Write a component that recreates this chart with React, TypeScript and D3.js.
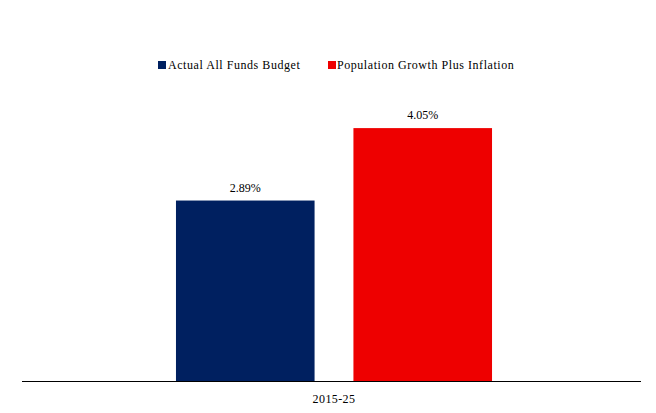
import React from "react";
import * as d3 from "d3";

const categories = ["2015-25"];
const seriesNames = ["Actual All Funds Budget", "Population Growth Plus Inflation"];
const seriesColors = ["#002060", "#EE0000"];
const values = [[2.89, 4.05]];
const valueLabels = [["2.89%", "4.05%"]];

const W = 656;
const H = 413;
const FONT = "'Liberation Serif', 'Times New Roman', serif";

export default function App() {
  const x0 = d3.scaleBand<string>().domain(categories).range([23, 645]).paddingInner(0).paddingOuter(0.484);
  const x1 = d3.scaleBand<string>().domain(seriesNames).range([0, x0.bandwidth()]).paddingInner(0.219).paddingOuter(0);
  const y = d3.scaleLinear().domain([0, 4.5]).range([381, 100]);

  const legendItems = [
    { x: 158, textX: 168 },
    { x: 328, textX: 337 },
  ];

  return (
    <svg width={W} height={H} style={{ position: "absolute", left: 0, top: 0, background: "#fff" }} fontFamily={FONT}>
      <rect x={0} y={0} width={W} height={H} fill="#fff" />
      {seriesNames.map((s, i) => (
        <g key={s}>
          <rect x={legendItems[i].x} y={61} width={8} height={8} fill={seriesColors[i]} />
          <text x={legendItems[i].textX} y={69} fontSize={12} letterSpacing={0.55} fill="#000">{s}</text>
        </g>
      ))}
      {categories.map((c, ci) => (
        <g key={c} transform={`translate(${x0(c)},0)`}>
          {seriesNames.map((s, si) => {
            const v = values[ci][si];
            const bx = x1(s)!;
            return (
              <g key={s}>
                <rect x={bx} y={y(v)} width={x1.bandwidth()} height={y(0) - y(v)} fill={seriesColors[si]} />
                <text x={bx + x1.bandwidth() / 2} y={y(v) - 9} textAnchor="middle" fontSize={12} fill="#000">
                  {valueLabels[ci][si]}
                </text>
              </g>
            );
          })}
          <text x={x0.bandwidth() / 2} y={403} textAnchor="middle" fontSize={12} letterSpacing={0.4} fill="#000">{c}</text>
        </g>
      ))}
      <line x1={22} x2={641} y1={y(0) + 0.5} y2={y(0) + 0.5} stroke="#000" strokeWidth={1} />
    </svg>
  );
}
